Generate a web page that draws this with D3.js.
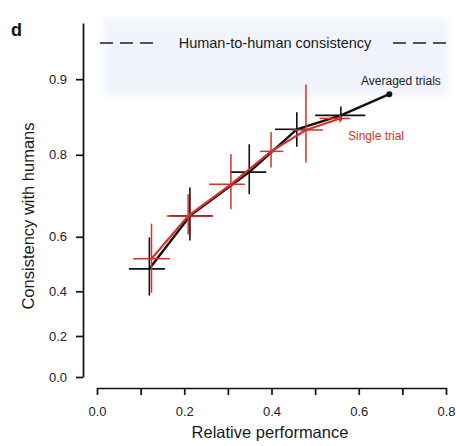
<!DOCTYPE html>
<html><head><meta charset="utf-8">
<script src="https://cdn.jsdelivr.net/npm/d3@7"></script>
<style>
html,body{margin:0;padding:0;background:#fff;}
svg{display:block;font-family:"Liberation Sans",Arial,sans-serif;}
</style></head>
<body><svg id="c" width="456" height="446"></svg>
<script>
// Averaged trials (black)
const avgX   = [0.120, 0.213, 0.349, 0.458, 0.559, 0.670];
const avgY   = [0.489, 0.662, 0.767, 0.841, 0.860, 0.885];
const avgXLo = [0.073, 0.165, 0.305, 0.408, 0.500];
const avgXHi = [0.156, 0.265, 0.388, 0.477, 0.615];
const avgYLo = [0.382, 0.588, 0.718, 0.814, 0.853];
const avgYHi = [0.598, 0.734, 0.818, 0.864, 0.871];
// Single trial (red)
const sglX   = [0.125, 0.209, 0.307, 0.399, 0.479, 0.557];
const sglY   = [0.526, 0.662, 0.741, 0.806, 0.840, 0.856];
const sglXLo = [0.083, 0.160, 0.257, 0.374, 0.447, 0.510];
const sglXHi = [0.167, 0.266, 0.339, 0.427, 0.518, 0.580];
const sglYLo = [0.394, 0.607, 0.680, 0.776, 0.786, 0.851];
const sglYHi = [0.640, 0.718, 0.801, 0.837, 0.895, 0.861];
// Human-to-human consistency and its band
const humanLevel = 0.929;
const humanBand = [0.882, 0.944];
// Axes
const xTicks = [0, 0.1, 0.2, 0.3, 0.4, 0.5, 0.6, 0.7, 0.8];
const xTickLabels = ["0.0", "", "0.2", "", "0.4", "", "0.6", "", "0.8"];
const yTicks = [0.0, 0.2, 0.4, 0.6, 0.8, 0.9];
const yTickLabels = ["0.0", "0.2", "0.4", "0.6", "0.8", "0.9"];

const svg = d3.select("#c");
const FONT = '"Liberation Sans",Arial,sans-serif';
const xs = d3.scaleLinear().domain([0, 0.8]).range([97, 446]);
// Fisher-z (atanh) transformed y axis
const zs = d3.scaleLinear().domain([0, 1.75]).range([377, 23]);
const ys = v => zs(Math.atanh(v));

const defs = svg.append("defs");
defs.append("filter").attr("id", "soft").attr("x", "-10%").attr("y", "-30%")
  .attr("width", "120%").attr("height", "160%")
  .append("feGaussianBlur").attr("stdDeviation", 3);

// band
svg.append("rect")
  .attr("x", 103).attr("width", 345)
  .attr("y", ys(humanBand[1])).attr("height", ys(humanBand[0]) - ys(humanBand[1]))
  .attr("fill", "#e4ecf8").attr("opacity", 0.5).attr("filter", "url(#soft)");

// human dashed line segments
const hy = ys(humanLevel);
svg.append("line").attr("x1", 100).attr("x2", 153).attr("y1", hy).attr("y2", hy)
  .attr("stroke", "#1a1f33").attr("stroke-width", 1.6).attr("stroke-dasharray", "13,7");
svg.append("line").attr("x1", 393).attr("x2", 446).attr("y1", hy).attr("y2", hy)
  .attr("stroke", "#1a1f33").attr("stroke-width", 1.6).attr("stroke-dasharray", "13,7");
svg.append("text").attr("x", 275).attr("y", hy).attr("dy", "0.35em")
  .attr("text-anchor", "middle").attr("font-size", 14.5).attr("fill", "#1a1a1a")
  .text("Human-to-human consistency");

// y axis
const yAxis = svg.append("g").attr("transform", "translate(83,0)")
  .call(d3.axisLeft(zs).tickValues(yTicks.map(Math.atanh))
    .tickFormat((d, i) => yTickLabels[i]).tickSize(7).tickSizeOuter(0).tickPadding(9));
// x axis
const xAxis = svg.append("g").attr("transform", "translate(0,388)")
  .call(d3.axisBottom(xs).tickValues(xTicks)
    .tickFormat((d, i) => xTickLabels[i]).tickSize(7).tickSizeOuter(0).tickPadding(12));
[yAxis, xAxis].forEach(g => {
  g.select(".domain").attr("stroke", "#111").attr("stroke-width", 1.7);
  g.selectAll(".tick line").attr("stroke", "#111").attr("stroke-width", 1.7);
  g.selectAll("text").attr("font-size", 13).attr("font-family", FONT).attr("fill", "#222");
});

// titles
svg.append("text").attr("transform", "translate(28,216) rotate(-90)")
  .attr("text-anchor", "middle").attr("dy", "0.35em").attr("font-size", 16.5).attr("fill", "#1a1a1a")
  .text("Consistency with humans");
svg.append("text").attr("x", 270).attr("y", 432).attr("dy", "0.35em")
  .attr("text-anchor", "middle").attr("font-size", 16.5).attr("fill", "#1a1a1a")
  .text("Relative performance");
svg.append("text").attr("x", 11).attr("y", 30).attr("dy", "0.35em")
  .attr("font-size", 18).attr("font-weight", "bold").attr("fill", "#111").text("d");

function drawSeries(X, Y, XLo, XHi, YLo, YHi, color, lw, ew) {
  const g = svg.append("g");
  const idx = d3.range(XLo.length);
  g.selectAll(".eh").data(idx).join("line")
    .attr("x1", i => xs(XLo[i])).attr("x2", i => xs(XHi[i]))
    .attr("y1", i => ys(Y[i])).attr("y2", i => ys(Y[i]))
    .attr("stroke", color).attr("stroke-width", ew);
  g.selectAll(".ev").data(idx).join("line")
    .attr("x1", i => xs(X[i])).attr("x2", i => xs(X[i]))
    .attr("y1", i => ys(YLo[i])).attr("y2", i => ys(YHi[i]))
    .attr("stroke", color).attr("stroke-width", ew);
  g.append("path").datum(d3.range(X.length))
    .attr("d", d3.line().x(i => xs(X[i])).y(i => ys(Y[i])))
    .attr("fill", "none").attr("stroke", color).attr("stroke-width", lw)
    .attr("stroke-linejoin", "round");
  return g;
}
drawSeries(avgX, avgY, avgXLo, avgXHi, avgYLo, avgYHi, "#111", 2.4, 1.6);
const last = avgX.length - 1;
svg.append("circle").attr("cx", xs(avgX[last])).attr("cy", ys(avgY[last])).attr("r", 3).attr("fill", "#111");
drawSeries(sglX, sglY, sglXLo, sglXHi, sglYLo, sglYHi, "#d4322c", 2.2, 1.5);

svg.append("text").attr("x", 361).attr("y", 81).attr("dy", "0.35em")
  .attr("font-size", 12).attr("fill", "#1a1a2a").text("Averaged trials");
svg.append("text").attr("x", 348).attr("y", 136).attr("dy", "0.35em")
  .attr("font-size", 12).attr("fill", "#d4322c").text("Single trial");
</script></body></html>
